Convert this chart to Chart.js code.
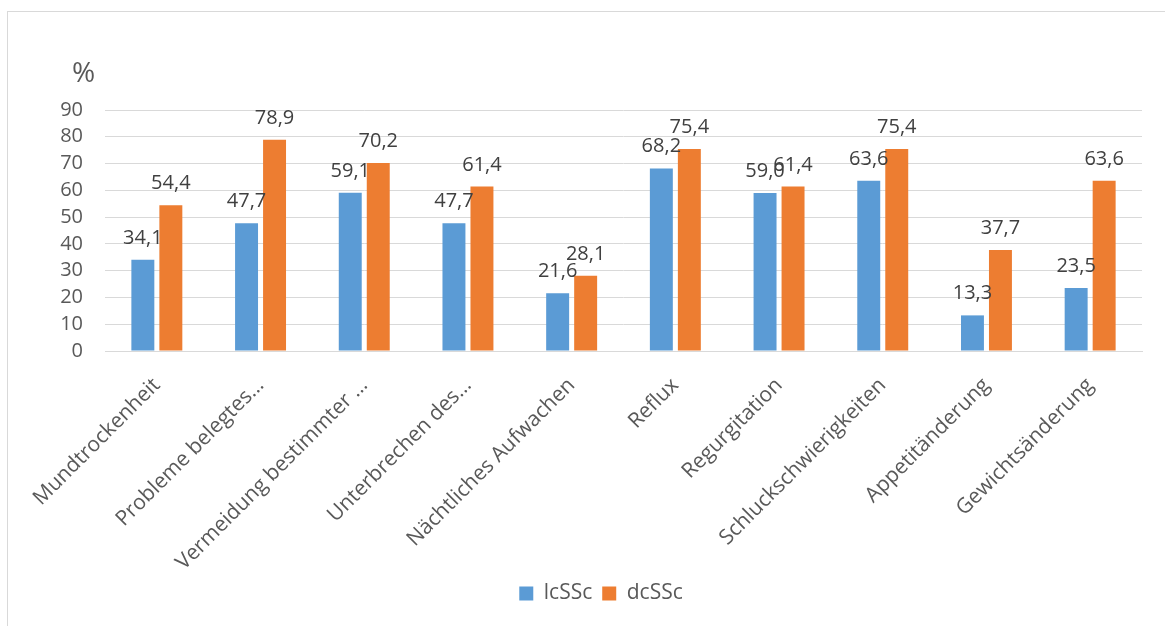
<!DOCTYPE html>
<html>
<head>
<meta charset="utf-8">
<script src="https://cdn.jsdelivr.net/npm/chart.js@4"></script>
<style>
  html, body { margin: 0; padding: 0; background: #fff; overflow: hidden; }
  #wrap { position: relative; width: 1165px; height: 626px; }
  #frame { position: absolute; left: 7px; top: 11px; width: 1170px; height: 630px; border: 1px solid #d9d9d9; box-sizing: border-box; }
  canvas { position: absolute; left: 0; top: 0; }
</style>
</head>
<body>
<div id="wrap">
  <div id="frame"></div>
  <canvas id="c" width="1165" height="626"></canvas>
</div>
<script>
const categories = ["Mundtrockenheit", "Probleme belegtes\u2026", "Vermeidung bestimmter \u2026", "Unterbrechen des\u2026", "N\u00e4chtliches Aufwachen", "Reflux", "Regurgitation", "Schluckschwierigkeiten", "Appetit\u00e4nderung", "Gewichts\u00e4nderung"];
const lcSSc = [34.1, 47.7, 59.1, 47.7, 21.6, 68.2, 59.0, 63.6, 13.3, 23.5];
const dcSSc = [54.4, 78.9, 70.2, 61.4, 28.1, 75.4, 61.4, 75.4, 37.7, 63.6];
const yTicks = [0, 10, 20, 30, 40, 50, 60, 70, 80, 90];
const seriesNames = ["lcSSc", "dcSSc"];
const unitLabel = "%";

const FONT = "'Open Sans', 'DejaVu Sans', sans-serif";

const valueLabels = {
  id: 'valueLabels',
  afterDatasetsDraw(chart) {
    const ctx = chart.ctx;
    ctx.save();
    ctx.font = "20px " + FONT;
    ctx.fillStyle = "#404040";
    ctx.textAlign = "center";
    ctx.textBaseline = "alphabetic";
    chart.data.datasets.forEach((ds, di) => {
      const meta = chart.getDatasetMeta(di);
      meta.data.forEach((bar, i) => {
        const v = ds.data[i];
        ctx.fillText(v.toFixed(1).replace('.', ','), bar.x, bar.y - 16);
      });
    });
    ctx.restore();
  }
};

const unitTitle = {
  id: 'unitTitle',
  afterDraw(chart) {
    const ctx = chart.ctx;
    const y = chart.scales.y;
    ctx.save();
    ctx.font = "28px " + FONT;
    ctx.fillStyle = "#595959";
    ctx.textAlign = "left";
    ctx.textBaseline = "alphabetic";
    ctx.fillText(unitLabel, y.left + 12, chart.chartArea.top - 28);
    ctx.restore();
  }
};

new Chart(document.getElementById('c'), {
  type: 'bar',
  data: {
    labels: categories,
    datasets: [
      { label: seriesNames[0], data: lcSSc, backgroundColor: '#5B9BD5', borderWidth: 0 },
      { label: seriesNames[1], data: dcSSc, backgroundColor: '#ED7D31', borderWidth: 0 }
    ]
  },
  options: {
    responsive: false,
    animation: false,
    devicePixelRatio: 1,
    categoryPercentage: 0.54,
    barPercentage: 0.82,
    layout: { padding: { left: 60, right: 23, top: 110, bottom: 12 } },
    plugins: {
      legend: {
        position: 'bottom',
        labels: {
          font: { family: FONT, size: 21 },
          color: '#595959',
          boxWidth: 14,
          boxHeight: 14,
          padding: 10
        }
      },
      tooltip: { enabled: false }
    },
    scales: {
      x: {
        grid: { display: false },
        border: { display: true, color: '#d9d9d9', width: 1 },
        ticks: {
          autoSkip: false,
          maxRotation: 45,
          minRotation: 45,
          font: { family: FONT, size: 21 },
          color: '#595959',
          padding: 14
        },
        afterFit(scale) { scale.height = 222; }
      },
      y: {
        min: 0,
        max: 90,
        afterBuildTicks(scale) { scale.ticks = yTicks.map(v => ({ value: v })); },
        grid: { color: '#d9d9d9', lineWidth: 1, drawTicks: false },
        border: { display: false },
        ticks: {
          autoSkip: false,
          font: { family: FONT, size: 20 },
          color: '#595959',
          padding: 22
        },
        afterFit(scale) { scale.width = 45; }
      }
    }
  },
  plugins: [valueLabels, unitTitle]
});
</script>
</body>
</html>
